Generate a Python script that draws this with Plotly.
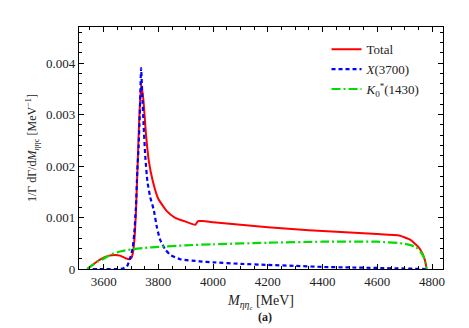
import plotly.graph_objects as go

# Total
x_total = [3540, 3560, 3580, 3600, 3620, 3640, 3660, 3680, 3695, 3702, 3708, 3713,
           3718, 3724, 3730, 3737, 3745, 3755, 3765, 3780, 3800, 3830, 3860, 3900,
           3935, 3945, 3960, 4000, 4100, 4200, 4300, 4400, 4500, 4600, 4680, 4720,
           4750, 4765, 4775, 4780]
y_total = [0, 0.00008, 0.00016, 0.00022, 0.00026, 0.00027, 0.00026, 0.00021, 0.00019,
           0.00022, 0.00035, 0.0006, 0.0011, 0.002, 0.0029, 0.0036, 0.0033, 0.0026,
           0.0021, 0.0017, 0.00136, 0.00113, 0.001, 0.00092, 0.00086, 0.00093,
           0.00093, 0.00091, 0.00086, 0.00081, 0.00077, 0.00074, 0.00071, 0.00068,
           0.00065, 0.00057, 0.00043, 0.0003, 0.00015, 0]

# X(3700)
x_x3700 = [3560, 3600, 3650, 3670, 3685, 3696, 3706, 3712, 3718, 3723, 3728, 3732,
           3737, 3741, 3746, 3752, 3760, 3770, 3783, 3795, 3807, 3825, 3845, 3880,
           3950, 4000, 4100, 4200, 4300, 4400, 4500, 4600, 4700, 4780]
y_x3700 = [0, 0, 0, 0.00001, 0.00005, 0.0002, 0.0004, 0.0007, 0.0012, 0.0019, 0.0024,
           0.003, 0.0039, 0.0034, 0.0028, 0.0022, 0.0017, 0.0014, 0.00115, 0.0008,
           0.00056, 0.00038, 0.00027, 0.00019, 0.00015, 0.00013, 0.0001, 0.00008,
           0.00006, 0.00004, 0.00003, 0.00002, 0.00001, 0]

# K0*(1430)
x_k1430 = [3540, 3560, 3580, 3600, 3630, 3660, 3700, 3750, 3800, 3900, 4000, 4200,
           4400, 4600, 4700, 4740, 4760, 4772, 4780]
y_k1430 = [0, 0.00008, 0.00015, 0.0002, 0.00029, 0.00034, 0.00038, 0.00041, 0.00043,
           0.00046, 0.00048, 0.00051, 0.00053, 0.00053, 0.00049, 0.00043, 0.00032,
           0.0002, 0]

x_ticks = [3600, 3800, 4000, 4200, 4400, 4600, 4800]
y_ticks = [0, 0.001, 0.002, 0.003, 0.004]
y_ticktext = ["0", "0.001", "0.002", "0.003", "0.004"]

serif = "Liberation Serif, DejaVu Serif, serif"

fig = go.Figure()
fig.add_trace(go.Scatter(x=x_total, y=y_total, mode="lines", name="Total",
                         line=dict(color="#ff0000", width=2, shape="spline", smoothing=0.4)))
fig.add_trace(go.Scatter(x=x_x3700, y=y_x3700, mode="lines", name="<i>X</i>(3700)",
                         line=dict(color="#0000ff", width=2.2, dash="4px,3px",
                                   shape="spline", smoothing=0.5)))
fig.add_trace(go.Scatter(x=x_k1430, y=y_k1430, mode="lines",
                         name="<i>K</i><sub>0</sub><sup>*</sup>(1430)",
                         line=dict(color="#00dd00", width=2.2, dash="9px,3px,2px,3px",
                                   shape="spline", smoothing=0.6)))

axis_common = dict(showline=True, linecolor="black", linewidth=1.2, mirror="allticks",
                   ticks="inside", ticklen=5, tickcolor="black", showgrid=False,
                   zeroline=False, tickfont=dict(family=serif, size=13, color="#222"))

fig.update_xaxes(range=[3510, 4840], tickvals=x_ticks,
                 minor=dict(dtick=50, ticks="inside", ticklen=3, tickcolor="black"),
                 title=dict(text="<i>M</i><sub><i>ηη</i><sub>c</sub></sub> [MeV]",
                            font=dict(family=serif, size=14, color="#222"), standoff=7),
                 **axis_common)
fig.update_yaxes(range=[0, 0.0047], tickvals=y_ticks, ticktext=y_ticktext,
                 minor=dict(dtick=0.0002, ticks="inside", ticklen=3, tickcolor="black"),
                 title=dict(text="1/Γ dΓ/d<i>M</i><sub><i>ηη</i>c</sub> [MeV<sup>−1</sup>]",
                            font=dict(family=serif, size=12, color="#222"), standoff=6),
                 **axis_common)

fig.add_annotation(text="<b>(a)</b>", xref="paper", yref="paper", x=0.51, y=-0.2,
                   yanchor="middle", showarrow=False,
                   font=dict(family=serif, size=12, color="#222"))

# the page body keeps an 8px margin, so the figure is sized to fit inside it
fig.update_layout(
    width=461, height=320,
    margin=dict(l=71, r=26, t=19, b=59),
    paper_bgcolor="white", plot_bgcolor="white",
    font=dict(family=serif, color="#222"),
    legend=dict(x=0.68, y=0.97, xanchor="left", yanchor="top",
                bgcolor="rgba(0,0,0,0)", font=dict(family=serif, size=13),
                tracegroupgap=0, itemwidth=30),
    showlegend=True,
)

fig.write_html("out.html")
